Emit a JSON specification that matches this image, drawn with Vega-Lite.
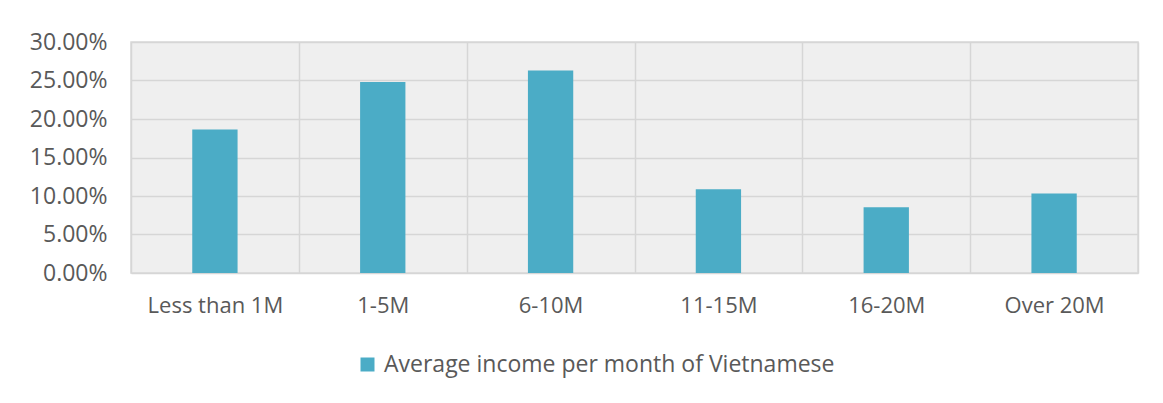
{
  "$schema": "https://vega.github.io/schema/vega-lite/v6.json",
  "autosize": {"type": "none"},
  "width": 1007,
  "height": 231,
  "padding": {"left": 131, "top": 42, "right": 25, "bottom": 130},
  "background": "white",
  "config": {
    "view": {"stroke": "#d9d9d9", "strokeWidth": 1.5, "fill": "#efefef"},
    "font": "Open Sans"
  },
  "data": {
    "values": [
      {"income": "Less than 1M", "share": 0.1865, "series": "Average income per month of Vietnamese"},
      {"income": "1-5M", "share": 0.248, "series": "Average income per month of Vietnamese"},
      {"income": "6-10M", "share": 0.263, "series": "Average income per month of Vietnamese"},
      {"income": "11-15M", "share": 0.1088, "series": "Average income per month of Vietnamese"},
      {"income": "16-20M", "share": 0.0855, "series": "Average income per month of Vietnamese"},
      {"income": "Over 20M", "share": 0.1031, "series": "Average income per month of Vietnamese"}
    ]
  },
  "mark": {"type": "bar", "width": {"band": 0.27}},
  "encoding": {
    "x": {
      "field": "income",
      "type": "nominal",
      "sort": null,
      "scale": {"paddingInner": 0, "paddingOuter": 0},
      "axis": {
        "title": null,
        "labelAngle": 0,
        "labelFontSize": 22,
        "labelColor": "#595959",
        "labelPadding": 22,
        "ticks": false,
        "domain": false,
        "grid": true,
        "tickBand": "extent",
        "gridColor": "#d6d6d6",
        "gridWidth": 1.5
      }
    },
    "y": {
      "field": "share",
      "type": "quantitative",
      "scale": {"domain": [0, 0.3], "nice": false},
      "axis": {
        "title": null,
        "format": ".2%",
        "values": [0, 0.05, 0.1, 0.15, 0.2, 0.25, 0.3],
        "labelFontSize": 23,
        "labelColor": "#595959",
        "labelPadding": 24,
        "ticks": false,
        "domain": false,
        "grid": true,
        "gridColor": "#d6d6d6",
        "gridWidth": 1.5
      }
    },
    "color": {
      "field": "series",
      "type": "nominal",
      "scale": {"range": ["#4bacc6"]},
      "legend": {
        "title": null,
        "orient": "none",
        "legendX": 225,
        "legendY": 311,
        "symbolType": "square",
        "symbolSize": 196,
        "symbolStrokeWidth": 0,
        "labelFontSize": 23,
        "labelLimit": 0,
        "labelColor": "#595959",
        "labelOffset": 5
      }
    }
  }
}
